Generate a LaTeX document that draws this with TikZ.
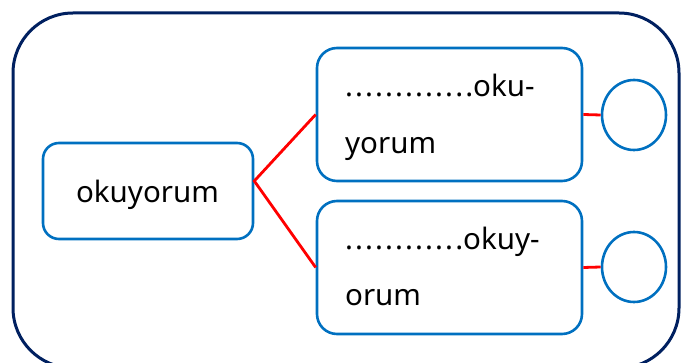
\documentclass[tikz,border=0pt]{standalone}
\usepackage{fontspec}
\setmainfont{Noto Sans}
\usetikzlibrary{shapes.geometric}
\definecolor{navy}{HTML}{002060}
\definecolor{boxblue}{HTML}{0070C0}
\newcommand\pd{.\kern2.1pt}
\tikzset{
  frame/.style={draw=navy, line width=3pt, rounded corners=60pt},
  wordbox/.style={draw=boxblue, line width=2.6pt, rounded corners=16pt, rectangle, inner sep=0pt},
  ring/.style={draw=boxblue, line width=2.6pt, ellipse, minimum width=64pt, minimum height=70pt, inner sep=0pt},
  link/.style={draw=red, line width=2.8pt},
  txt/.style={font=\fontsize{29.5}{35}\selectfont, inner sep=0pt, text=black}
}
\begin{document}
\begin{tikzpicture}[x=1pt,y=-1pt]
\useasboundingbox (0,0) rectangle (694,363);
\draw[frame] (13,13) rectangle (679,368);
\node[wordbox, minimum width=210pt, minimum height=96pt] (L) at (148,191) {};
\node[wordbox, minimum width=265pt, minimum height=133pt, rounded corners=20pt] (T) at (449.5,114.5) {};
\node[wordbox, minimum width=265pt, minimum height=133pt, rounded corners=20pt] (B) at (449.5,267.5) {};
\node[ring] (CT) at (634,115) {};
\node[ring] (CB) at (634,267) {};
\node[txt, anchor=base] (tL) at (147.5,203) {okuyorum};
\node[txt, anchor=base west] (tT1) at (345,97) {\pd\pd\pd\pd\pd\pd\pd\pd\pd\pd\pd\pd.oku-};
\node[txt, anchor=base west] (tT2) at (345,154) {yorum};
\node[txt, anchor=base west] (tB1) at (345,250) {\pd\pd\pd\pd\pd\pd\pd\pd\pd\pd\pd.okuy-};
\node[txt, anchor=base west] (tB2) at (345,306) {orum};
\coordinate (j) at ([yshift=10pt]L.east);
\draw[link] (T.west) -- (j) -- (B.west);
\draw[link] (T.east) -- (CT.west);
\draw[link] (B.east) -- (CB.west);
\end{tikzpicture}
\end{document}
